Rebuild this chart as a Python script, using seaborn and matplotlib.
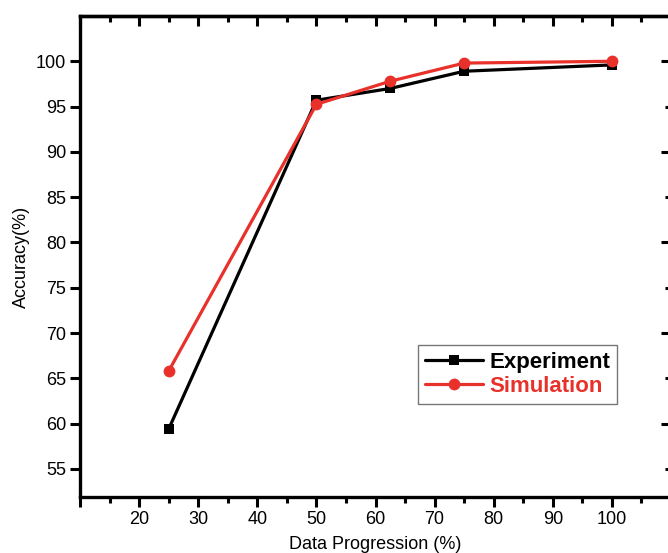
import numpy as np
import pandas as pd
import matplotlib
matplotlib.use("Agg")
import matplotlib.pyplot as plt
import seaborn as sns

# Dados
progresso = [25, 50, 62.5, 75, 100]
experimento = [59.4, 95.7, 97.0, 98.9, 99.6]
simulacao = [65.8, 95.25, 97.8, 99.8, 100.0]
series = ["Experiment", "Simulation"]
cores = {"Experiment": "#000000", "Simulation": "#e8312a"}

df = pd.DataFrame({
    "progresso": progresso * 2,
    "acuracia": experimento + simulacao,
    "serie": [series[0]] * len(progresso) + [series[1]] * len(progresso),
})

sns.set_style("ticks")
plt.rcParams["font.family"] = ["Liberation Sans", "DejaVu Sans"]
plt.rcParams["axes.edgecolor"] = "black"
plt.rcParams["xtick.color"] = "black"
plt.rcParams["ytick.color"] = "black"
plt.rcParams["axes.labelcolor"] = "black"
plt.rcParams["text.color"] = "black"

fig = plt.figure(figsize=(6.68, 5.53), dpi=100)
ax = fig.add_axes([0.1198, 0.1013, 0.8847, 0.8698])

# --- linhas: experimento primeiro, simulação por cima ---
sns.lineplot(data=df[df["serie"] == "Experiment"], x="progresso", y="acuracia",
             color=cores["Experiment"], marker="s", markersize=7, markeredgewidth=0,
             linewidth=2.3, ax=ax, label="Experiment")
sns.lineplot(data=df[df["serie"] == "Simulation"], x="progresso", y="acuracia",
             color=cores["Simulation"], marker="o", markersize=8.5, markeredgewidth=0,
             linewidth=2.3, ax=ax, label="Simulation")

ax.set_xlim(10, 110)
ax.set_ylim(51.9, 105)
ax.set_xticks(np.arange(10, 111, 10))
ax.set_xticklabels([""] + [str(v) for v in range(20, 101, 10)] + [""])
ax.set_xticks(np.arange(15, 110, 10), minor=True)
ax.set_yticks(np.arange(55, 101, 5))

for s in ax.spines.values():
    s.set_linewidth(2.4)
    s.set_color("black")
    s.set_visible(True)

ax.tick_params(axis="both", which="major", direction="out", length=7, width=2.2,
               labelsize=13, pad=3, colors="black")
ax.tick_params(axis="x", which="minor", direction="out", length=4, width=2.2, colors="black")
ax.tick_params(axis="x", which="both", top=False)

# ticks do topo e da direita voltados para dentro
topo = ax.secondary_xaxis("top")
topo.set_xticks(np.arange(10, 111, 10))
topo.set_xticks(np.arange(15, 110, 10), minor=True)
topo.tick_params(which="major", direction="in", length=7, width=2.2, labeltop=False, colors="black")
topo.tick_params(which="minor", direction="in", length=4, width=2.2, colors="black")
topo.spines["top"].set_linewidth(2.4)
topo.spines["top"].set_color("black")

direita = ax.secondary_yaxis("right")
direita.set_yticks(np.arange(60, 101, 10))
direita.set_yticks(np.arange(55, 101, 10), minor=True)
direita.tick_params(which="major", direction="in", length=7, width=2.2, labelright=False, colors="black")
direita.tick_params(which="minor", direction="in", length=4, width=2.2, colors="black")

ax.set_xlabel("Data Progression (%)", fontsize=13, labelpad=6)
ax.set_ylabel("Accuracy(%)", fontsize=13, labelpad=4)

leg = ax.legend(loc="upper left", bbox_to_anchor=(0.572, 0.316), borderaxespad=0,
                frameon=True, fancybox=False, handlelength=2.6, handletextpad=0.3,
                labelspacing=0.15, borderpad=0.3, prop={"weight": "bold", "size": 16})
leg.get_frame().set_edgecolor("#555555")
leg.get_frame().set_linewidth(1.0)
for txt, nome in zip(leg.get_texts(), series):
    txt.set_color(cores[nome])

fig.savefig("out.png", dpi=100)
